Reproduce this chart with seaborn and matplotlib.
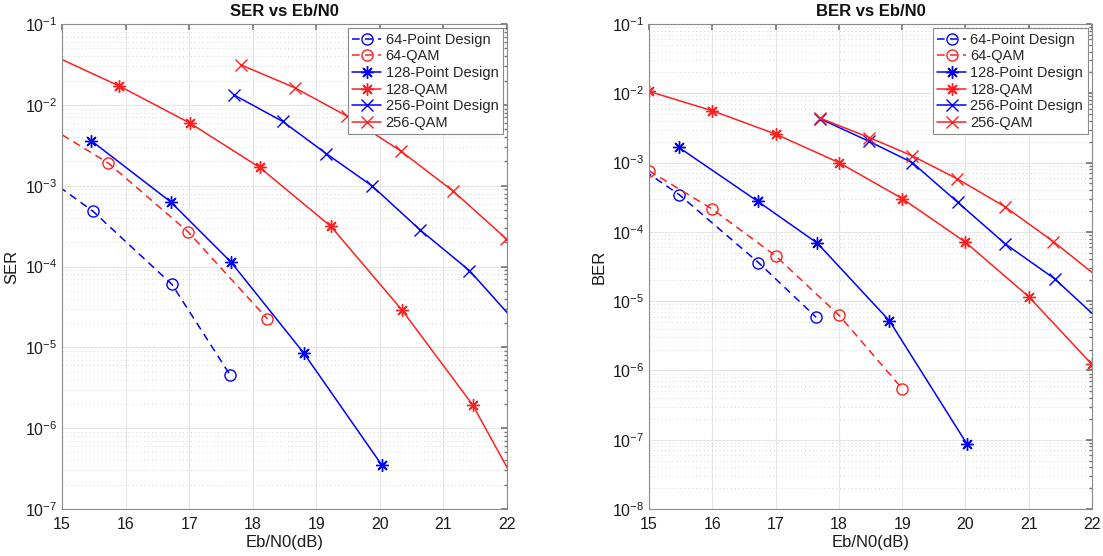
import numpy as np
import pandas as pd
import matplotlib
matplotlib.use("Agg")
import matplotlib.pyplot as plt
import seaborn as sns
from matplotlib.ticker import FixedLocator, LogFormatterSciNotation, NullFormatter

# ---------------- data (SER) ----------------
ser_64pd_x = [14.3, 15.49, 16.73, 17.64]
ser_64pd_y = [2.3e-3, 4.8e-4, 6.0e-5, 4.6e-6]
ser_64qam_x = [14.48, 15.73, 16.98, 18.23]
ser_64qam_y = [7.6e-3, 1.9e-3, 2.7e-4, 2.25e-5]
ser_128pd_x = [15.46, 16.71, 17.66, 18.80, 20.03]
ser_128pd_y = [3.6e-3, 6.3e-4, 1.13e-4, 8.55e-6, 3.5e-7]
ser_128qam_x = [14.79, 15.90, 17.01, 18.11, 19.23, 20.35, 21.46, 22.57]
ser_128qam_y = [0.0433, 0.0171, 5.96e-3, 1.68e-3, 3.13e-4, 2.88e-5, 1.94e-6, 5.0e-8]
ser_256pd_x = [17.71, 18.47, 19.16, 19.88, 20.63, 21.41, 22.2]
ser_256pd_y = [0.0132, 6.24e-3, 2.48e-3, 9.9e-4, 2.85e-4, 8.9e-5, 1.8e-5]
ser_256qam_x = [17.82, 18.66, 19.49, 20.33, 21.15, 21.99]
ser_256qam_y = [0.0311, 0.0163, 7.2e-3, 2.68e-3, 8.6e-4, 2.2e-4]

# ---------------- data (BER) ----------------
ber_64pd_x = [14.26, 15.48, 16.73, 17.64]
ber_64pd_y = [2.0e-3, 3.43e-4, 3.6e-5, 5.86e-6]
ber_64qam_x = [15.0, 16.0, 17.0, 18.0, 19.0]
ber_64qam_y = [7.6e-4, 2.13e-4, 4.5e-5, 6.3e-6, 5.46e-7]
ber_128pd_x = [15.47, 16.72, 17.66, 18.80, 20.02]
ber_128pd_y = [1.66e-3, 2.75e-4, 6.87e-5, 5.19e-6, 8.8e-8]
ber_128qam_x = [15.0, 16.0, 17.0, 18.0, 19.0, 20.0, 21.0, 22.0]
ber_128qam_y = [0.01065, 5.6e-3, 2.58e-3, 1.0e-3, 3.03e-4, 7.1e-5, 1.16e-5, 1.22e-6]
ber_256pd_x = [17.70, 18.48, 19.16, 19.88, 20.63, 21.41, 22.17]
ber_256pd_y = [4.3e-3, 2.02e-3, 1.0e-3, 2.66e-4, 6.7e-5, 2.1e-5, 4.8e-6]
ber_256qam_x = [17.70, 18.48, 19.16, 19.87, 20.62, 21.39, 22.17]
ber_256qam_y = [4.39e-3, 2.30e-3, 1.25e-3, 5.83e-4, 2.32e-4, 7.24e-5, 1.95e-5]

labels = ["64-Point Design", "64-QAM", "128-Point Design", "128-QAM",
          "256-Point Design", "256-QAM"]
xticks = [15, 16, 17, 18, 19, 20, 21, 22]
ser_yticks = [1e-7, 1e-6, 1e-5, 1e-4, 1e-3, 1e-2, 1e-1]
ber_yticks = [1e-8, 1e-7, 1e-6, 1e-5, 1e-4, 1e-3, 1e-2, 1e-1]

BLUE = "#0000ff"
RED = "#ff2020"
ASTER = (8, 2, 0)

styles = [
    dict(color=BLUE, marker="o", ls=(0, (5, 3.5))),
    dict(color=RED, marker="o", ls=(0, (5, 3.5))),
    dict(color=BLUE, marker=ASTER, ls="-"),
    dict(color=RED, marker=ASTER, ls="-"),
    dict(color=BLUE, marker="x", ls="-"),
    dict(color=RED, marker="x", ls="-"),
]

sns.set_theme(style="white")
plt.rcParams["font.family"] = ["Liberation Sans", "DejaVu Sans"]
plt.rcParams["mathtext.fontset"] = "custom"
plt.rcParams["mathtext.rm"] = "Liberation Sans"
plt.rcParams["mathtext.it"] = "Liberation Sans:italic"
plt.rcParams["mathtext.bf"] = "Liberation Sans:bold"

fig = plt.figure(figsize=(11.03, 5.56), dpi=100)
ax1 = fig.add_axes([62 / 1103, 47 / 556, 445 / 1103, 485 / 556])
ax2 = fig.add_axes([649 / 1103, 47 / 556, 443 / 1103, 485 / 556])

ser_sets = [(ser_64pd_x, ser_64pd_y), (ser_64qam_x, ser_64qam_y),
            (ser_128pd_x, ser_128pd_y), (ser_128qam_x, ser_128qam_y),
            (ser_256pd_x, ser_256pd_y), (ser_256qam_x, ser_256qam_y)]
ber_sets = [(ber_64pd_x, ber_64pd_y), (ber_64qam_x, ber_64qam_y),
            (ber_128pd_x, ber_128pd_y), (ber_128qam_x, ber_128qam_y),
            (ber_256pd_x, ber_256pd_y), (ber_256qam_x, ber_256qam_y)]


def draw(ax, sets, title, ylab, yticks):
    for (xs, ys), lab, st in zip(sets, labels, styles):
        df = pd.DataFrame({"x": xs, "y": ys})
        msize = 8 if st["marker"] == "o" else 9
        sns.lineplot(data=df, x="x", y="y", ax=ax, sort=False, estimator=None,
                     color=st["color"], linestyle=st["ls"], linewidth=1.1,
                     marker=st["marker"], markersize=msize,
                     markerfacecolor="none", markeredgecolor=st["color"],
                     markeredgewidth=1.0, label=lab, clip_on=True)
    ax.set_yscale("log")
    ax.set_xlim(15, 22)
    ax.set_ylim(yticks[0], yticks[-1])
    ax.set_xticks(xticks)
    ax.set_xticklabels([str(t) for t in xticks])
    ax.yaxis.set_major_locator(FixedLocator(yticks))
    ax.yaxis.set_major_formatter(LogFormatterSciNotation())
    minors = [m * d for d in yticks[:-1] for m in range(2, 10)]
    ax.yaxis.set_minor_locator(FixedLocator(minors))
    ax.yaxis.set_minor_formatter(NullFormatter())
    ax.grid(True, which="major", axis="both", color="#e6e6e6", lw=0.8, ls="-")
    ax.grid(True, which="minor", axis="y", color="#d4d4d4", lw=0.7, ls=(0, (1, 3)))
    ax.tick_params(which="both", direction="in", top=True, right=True,
                   colors="#777777", labelcolor="#1a1a1a", labelsize=11.5)
    ax.tick_params(which="major", length=4)
    ax.tick_params(which="minor", length=2)
    ax.tick_params(axis="x", pad=6)
    for sp in ax.spines.values():
        sp.set_color("#8a8a8a")
        sp.set_linewidth(0.8)
    ax.set_title(title, fontsize=12, fontweight="bold", color="#111111", pad=6)
    ax.set_xlabel("Eb/N0(dB)", fontsize=12, color="#1a1a1a", labelpad=2)
    ax.set_ylabel(ylab, fontsize=12, color="#1a1a1a", labelpad=4)
    leg = ax.legend(loc="upper right", fontsize=10.5, frameon=True, fancybox=False,
                    framealpha=1, edgecolor="#8a8a8a", borderpad=0.3,
                    labelspacing=0.18, handlelength=2.0, handletextpad=0.3,
                    borderaxespad=0.3)
    leg.get_frame().set_linewidth(0.8)


draw(ax1, ser_sets, "SER vs Eb/N0", "SER", ser_yticks)
draw(ax2, ber_sets, "BER vs Eb/N0", "BER", ber_yticks)

fig.savefig("out.png", dpi=100)
